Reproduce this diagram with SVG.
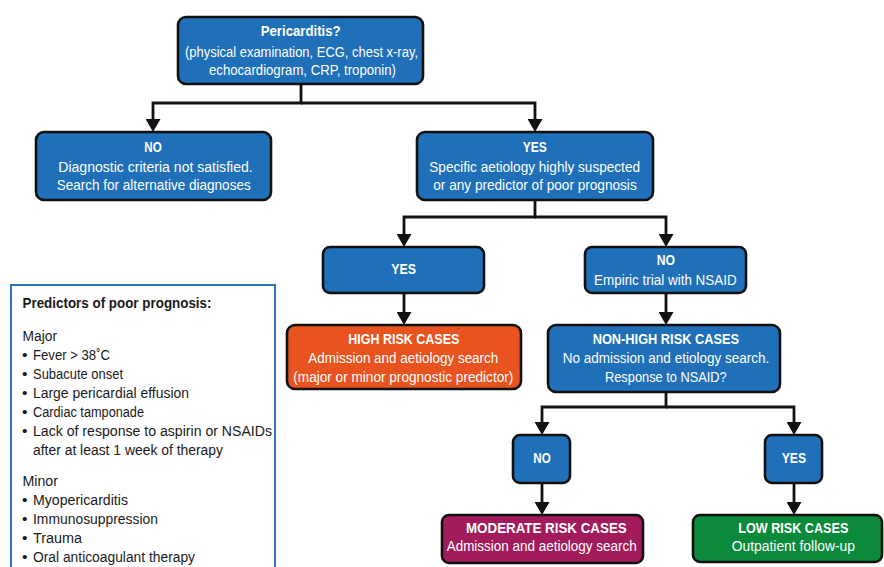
<svg xmlns="http://www.w3.org/2000/svg" width="884" height="567" viewBox="0 0 884 567">
<defs>
<style>
.box{stroke:#111;stroke-width:2.6}
.blue{fill:#1F6FB9}
.orange{fill:#E9531F}
.mag{fill:#A21C5C}
.green{fill:#0C8A3B}
text{font-family:"Liberation Sans",Arial,sans-serif;font-size:15.5px}
.w{fill:#fff}
.b{font-weight:bold}
.d{fill:#1a1a1a}
.conn path{fill:none;stroke:#111;stroke-width:2.8;marker-end:url(#ah)}
.legend{fill:#fff;stroke:#2F74B6;stroke-width:2}
</style>
<marker id="ah" markerUnits="userSpaceOnUse" viewBox="0 0 13 15" markerWidth="13" markerHeight="15" refX="0" refY="7.5" orient="auto">
<path d="M0,0 L13,7.5 L0,15 z" fill="#111"/>
</marker>
</defs>
<rect width="884" height="567" fill="#fff"/>

<g id="connectors" class="conn">
<path d="M301,84 V103 H153 V119"/>
<path d="M301,103 H535 V119"/>
<path d="M535,200 V217 H404 V234"/>
<path d="M535,217 H666 V234"/>
<path d="M404,293 V312"/>
<path d="M666,293 V312"/>
<path d="M666,392 V407 H542 V422"/>
<path d="M666,407 H794 V422"/>
<path d="M542,483 V502"/>
<path d="M794,483 V502"/>
</g>

<g id="n-pericarditis">
<rect class="box blue" x="178" y="17" width="245" height="67" rx="8"/>
<text class="w b" x="260.7" y="36" textLength="80" lengthAdjust="spacingAndGlyphs">Pericarditis?</text>
<text class="w" x="185" y="57" textLength="233" lengthAdjust="spacingAndGlyphs">(physical examination, ECG, chest x-ray,</text>
<text class="w" x="209" y="75" textLength="187" lengthAdjust="spacingAndGlyphs">echocardiogram, CRP, troponin)</text>
</g>

<g id="n-no1">
<rect class="box blue" x="36" y="132" width="235" height="68" rx="8"/>
<text class="w b" x="144.3" y="152" textLength="17.4" lengthAdjust="spacingAndGlyphs">NO</text>
<text class="w" x="58.3" y="172" textLength="194.4" lengthAdjust="spacingAndGlyphs">Diagnostic criteria not satisfied.</text>
<text class="w" x="56.7" y="190" textLength="194" lengthAdjust="spacingAndGlyphs">Search for alternative diagnoses</text>
</g>

<g id="n-yes1">
<rect class="box blue" x="417" y="132" width="236" height="68" rx="8"/>
<text class="w b" x="522.7" y="152" textLength="24" lengthAdjust="spacingAndGlyphs">YES</text>
<text class="w" x="429.3" y="172" textLength="210.7" lengthAdjust="spacingAndGlyphs">Specific aetiology highly suspected</text>
<text class="w" x="433.3" y="190" textLength="203.4" lengthAdjust="spacingAndGlyphs">or any predictor of poor prognosis</text>
</g>

<g id="n-yes2">
<rect class="box blue" x="323" y="247" width="161" height="46" rx="7"/>
<text class="w b" x="391.3" y="274" textLength="24.7" lengthAdjust="spacingAndGlyphs">YES</text>
</g>

<g id="n-no2">
<rect class="box blue" x="585" y="247" width="161" height="46" rx="7"/>
<text class="w b" x="656.7" y="265" textLength="18.3" lengthAdjust="spacingAndGlyphs">NO</text>
<text class="w" x="594" y="285" textLength="142.7" lengthAdjust="spacingAndGlyphs">Empiric trial with NSAID</text>
</g>

<g id="n-high">
<rect class="box orange" x="287" y="325" width="234" height="64" rx="8"/>
<text class="w b" x="348.3" y="344" textLength="111" lengthAdjust="spacingAndGlyphs">HIGH RISK CASES</text>
<text class="w" x="308.3" y="363" textLength="190" lengthAdjust="spacingAndGlyphs">Admission and aetiology search</text>
<text class="w" x="293.3" y="382" textLength="220" lengthAdjust="spacingAndGlyphs">(major or minor prognostic predictor)</text>
</g>

<g id="n-nonhigh">
<rect class="box blue" x="548" y="325" width="232" height="67" rx="8"/>
<text class="w b" x="592.7" y="344" textLength="146.3" lengthAdjust="spacingAndGlyphs">NON-HIGH RISK CASES</text>
<text class="w" x="562.7" y="363" textLength="206.6" lengthAdjust="spacingAndGlyphs">No admission and etiology search.</text>
<text class="w" x="605" y="382" textLength="121.7" lengthAdjust="spacingAndGlyphs">Response to NSAID?</text>
</g>

<g id="n-no3">
<rect class="box blue" x="513" y="435" width="57" height="48" rx="7"/>
<text class="w b" x="533.3" y="463" textLength="17.4" lengthAdjust="spacingAndGlyphs">NO</text>
</g>

<g id="n-yes3">
<rect class="box blue" x="765" y="435" width="57" height="48" rx="7"/>
<text class="w b" x="781.7" y="463" textLength="24.3" lengthAdjust="spacingAndGlyphs">YES</text>
</g>

<g id="n-moderate">
<rect class="box mag" x="442" y="515" width="201" height="48" rx="7"/>
<text class="w b" x="466" y="533" textLength="160.7" lengthAdjust="spacingAndGlyphs">MODERATE RISK CASES</text>
<text class="w" x="446.7" y="551" textLength="190" lengthAdjust="spacingAndGlyphs">Admission and aetiology search</text>
</g>

<g id="n-low">
<rect class="box green" x="693" y="515" width="189" height="47" rx="7"/>
<text class="w b" x="738.3" y="533" textLength="110" lengthAdjust="spacingAndGlyphs">LOW RISK CASES</text>
<text class="w" x="731.7" y="551" textLength="123.3" lengthAdjust="spacingAndGlyphs">Outpatient follow-up</text>
</g>

<g id="legend">
<rect class="legend" x="11" y="285" width="264" height="300"/>
<text class="d b" x="22.5" y="308" textLength="189" lengthAdjust="spacingAndGlyphs">Predictors of poor prognosis:</text>
<text class="d" x="22.5" y="341" textLength="34.5" lengthAdjust="spacingAndGlyphs">Major</text>
<text class="d" x="22" y="360">•</text><text class="d" x="33" y="360" textLength="77" lengthAdjust="spacingAndGlyphs">Fever &gt; 38˚C</text>
<text class="d" x="22" y="379">•</text><text class="d" x="33" y="379" textLength="90" lengthAdjust="spacingAndGlyphs">Subacute onset</text>
<text class="d" x="22" y="398">•</text><text class="d" x="33" y="398" textLength="156" lengthAdjust="spacingAndGlyphs">Large pericardial effusion</text>
<text class="d" x="22" y="417">•</text><text class="d" x="33" y="417" textLength="111" lengthAdjust="spacingAndGlyphs">Cardiac tamponade</text>
<text class="d" x="22" y="436">•</text><text class="d" x="33" y="436" textLength="239" lengthAdjust="spacingAndGlyphs">Lack of response to aspirin or NSAIDs</text>
<text class="d" x="33" y="455" textLength="190" lengthAdjust="spacingAndGlyphs">after at least 1 week of therapy</text>
<text class="d" x="22.5" y="486" textLength="35.5" lengthAdjust="spacingAndGlyphs">Minor</text>
<text class="d" x="22" y="505">•</text><text class="d" x="33" y="505" textLength="95" lengthAdjust="spacingAndGlyphs">Myopericarditis</text>
<text class="d" x="22" y="524">•</text><text class="d" x="33" y="524" textLength="125" lengthAdjust="spacingAndGlyphs">Immunosuppression</text>
<text class="d" x="22" y="543">•</text><text class="d" x="33" y="543" textLength="49" lengthAdjust="spacingAndGlyphs">Trauma</text>
<text class="d" x="22" y="562">•</text><text class="d" x="33" y="562" textLength="162" lengthAdjust="spacingAndGlyphs">Oral anticoagulant therapy</text>
</g>
</svg>
